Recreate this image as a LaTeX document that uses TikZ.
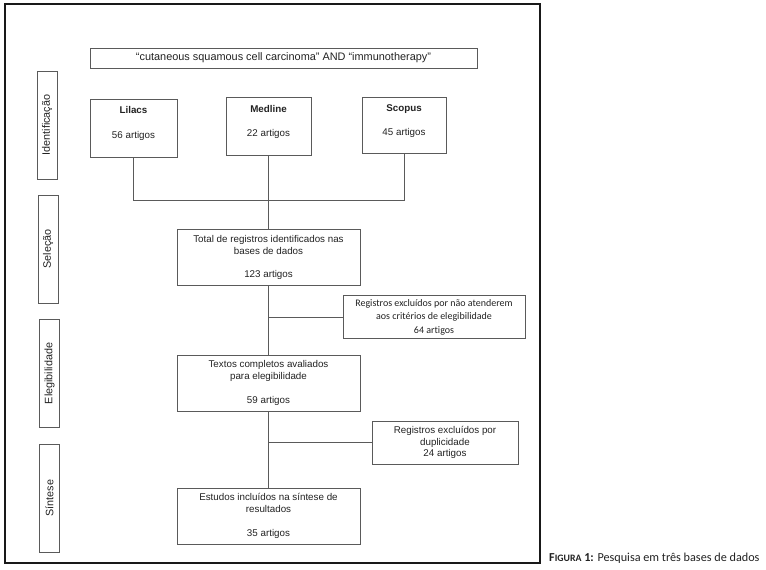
\documentclass[tikz,border=0pt]{standalone}
\usepackage{fontspec}
\setmainfont{Liberation Sans}
\newfontfamily\calib[Ligatures=NoCommon]{Carlito}
\definecolor{boxgray}{HTML}{5A5A5A}
\definecolor{txtgray}{HTML}{222222}
\begin{document}
\begin{tikzpicture}[x=1pt,y=-1pt,
  box/.style={draw=boxgray,line width=0.8pt,inner sep=0pt,align=center,
    text=txtgray,font=\fontsize{9.8}{12}\selectfont},
  sidebox/.style={draw=boxgray,line width=0.8pt,inner sep=0pt,rotate=90,
    minimum width=108pt,minimum height=20pt,text=txtgray,
    font=\fontsize{10.8}{12}\selectfont},
  link/.style={draw=boxgray,line width=0.8pt}]
\useasboundingbox (0,0) rectangle (766,570);
\draw[line width=1.1pt,black!90] (5,4) rectangle (540,563);

% title
\node[box,minimum width=387pt,minimum height=20pt,font=\fontsize{10.9}{12}\selectfont] (query) at (283.5,58)
  {“cutaneous squamous cell carcinoma” AND “immunotherapy”};

% side labels
\node[sidebox] (ident) at (47,125) {Identificação};
\node[sidebox] (selec) at (48,249) {Seleção};
\node[sidebox] (eleg) at (49.5,373.5) {Elegibilidade};
\node[sidebox] (sint) at (49.5,498) {Síntese};

% databases
\node[box,minimum width=87pt,minimum height=58pt,text depth=11pt] (lilacs) at (133.5,128)
  {\textbf{Lilacs}\\[13pt]56 artigos};
\node[box,minimum width=85pt,minimum height=58pt,text depth=11pt] (medline) at (268.5,126)
  {\textbf{Medline}\\[12pt]22 artigos};
\node[box,minimum width=84pt,minimum height=56pt,text depth=9pt] (scopus) at (404,125)
  {\textbf{Scopus}\\[12pt]45 artigos};

% main flow
\node[box,minimum width=183pt,minimum height=56pt] (total) at (268.5,257)
  {Total de registros identificados nas\\bases de dados\\[11pt]123 artigos};
\node[box,minimum width=183pt,minimum height=56pt] (textos) at (268.5,383)
  {Textos completos avaliados\\para elegibilidade\\[12pt]59 artigos};
\node[box,minimum width=183pt,minimum height=56pt] (estudos) at (268.5,516)
  {Estudos incluídos na síntese de\\resultados\\[12pt]35 artigos};

% exclusions
\node[box,minimum width=182pt,minimum height=43pt,
  font=\calib\fontsize{10}{13.5}\selectfont] (excl1) at (434,317)
  {Registros excluídos por não atenderem\\aos critérios de elegibilidade\\64 artigos};
\node[box,minimum width=146pt,minimum height=43pt,
  font=\fontsize{9.8}{11.5}\selectfont] (excl2) at (445,442.5)
  {Registros excluídos por\\duplicidade\\24 artigos};

% connectors
\coordinate (junc) at (268.5,200);
\draw[link] (lilacs.south) |- (junc);
\draw[link] (scopus.south) |- (junc);
\draw[link] (medline.south) -- (total.north);
\draw[link] (total.south) -- (textos.north);
\draw[link] (textos.south) -- (estudos.north);
\draw[link] (excl1.west) -- (excl1.west -| total.south);
\draw[link] (excl2.west) -- (excl2.west -| textos.south);

% caption
\node[anchor=base west,inner sep=0pt,text=txtgray,font=\calib\fontsize{12.2}{14}\selectfont]
  (caption) at (549,561) {\textbf{F{\fontsize{9.8}{12}\selectfont IGURA} 1:} Pesquisa em três bases de dados};
\end{tikzpicture}
\end{document}
